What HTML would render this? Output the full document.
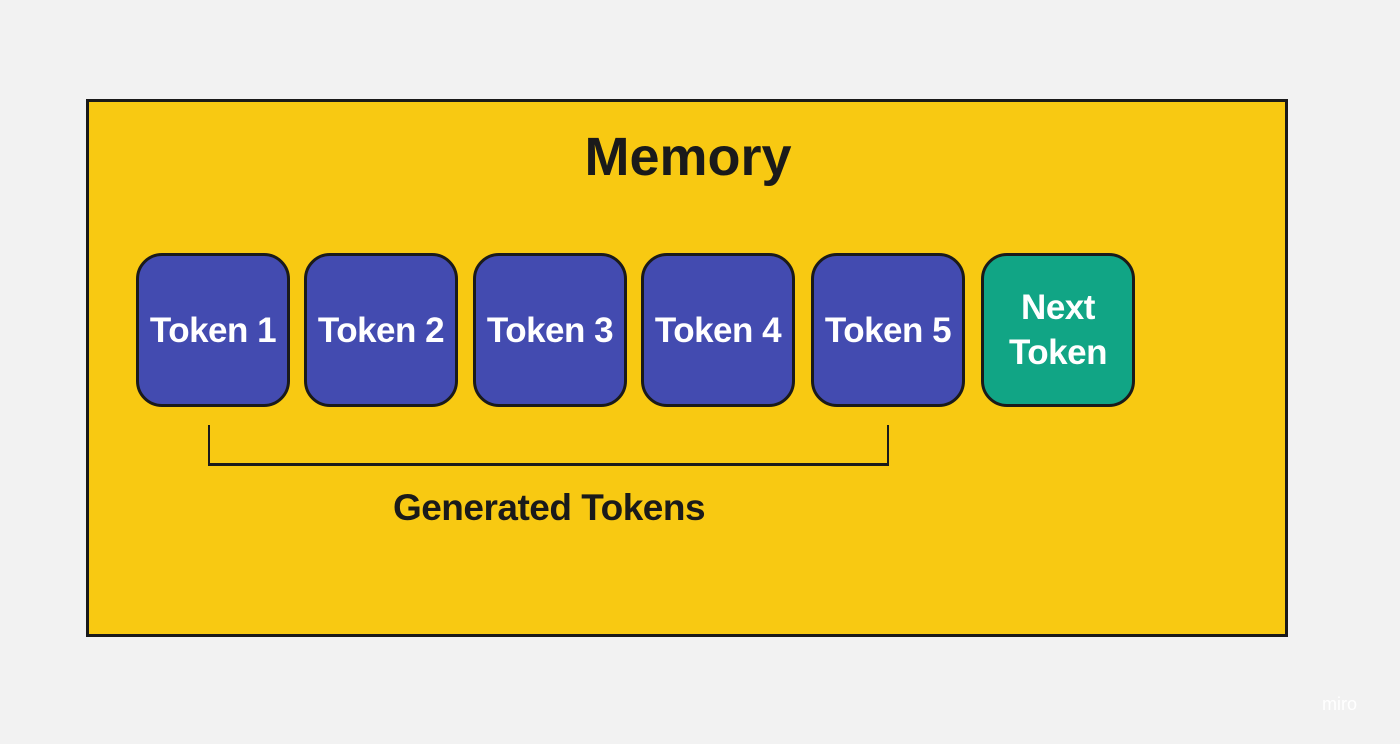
<!DOCTYPE html>
<html><head><style>
body{margin:0;width:1400px;height:744px;background:#f2f2f2;position:relative;overflow:hidden;font-family:"Liberation Sans",sans-serif}
.frame{position:absolute;left:86px;top:99px;width:1196px;height:532px;background:#f8c912;border:3px solid #1a1a1a}
.t{position:absolute;top:253px;width:148px;height:148px;border:3px solid #1a1a1a;border-radius:26px;background:#434bb0;color:#fff;font-weight:bold;font-size:35px;display:flex;align-items:center;justify-content:center;text-align:center;line-height:45px;letter-spacing:-0.5px;white-space:nowrap}
.l{position:absolute;background:#1a1a1a}
</style></head><body>
<div class="frame"></div>
<div style="position:absolute;left:0;width:1376px;top:126px;text-align:center;font-weight:bold;font-size:54px;color:#1a1a1a">Memory</div>
<div class="t" style="left:136px">Token 1</div>
<div class="t" style="left:304px">Token 2</div>
<div class="t" style="left:473px">Token 3</div>
<div class="t" style="left:641px">Token 4</div>
<div class="t" style="left:811px">Token 5</div>
<div class="t" style="left:981px;background:#11a585">Next<br>Token</div>
<div class="l" style="left:208px;top:425px;width:2px;height:41px"></div>
<div class="l" style="left:887px;top:425px;width:2px;height:41px"></div>
<div class="l" style="left:208px;top:463px;width:681px;height:3px"></div>
<div style="position:absolute;left:349px;width:400px;top:487px;text-align:center;font-weight:bold;font-size:37px;color:#1a1a1a;letter-spacing:-0.5px">Generated Tokens</div>
<div style="position:absolute;left:1322px;top:694px;font-size:18px;color:#fff">miro</div>
</body></html>
